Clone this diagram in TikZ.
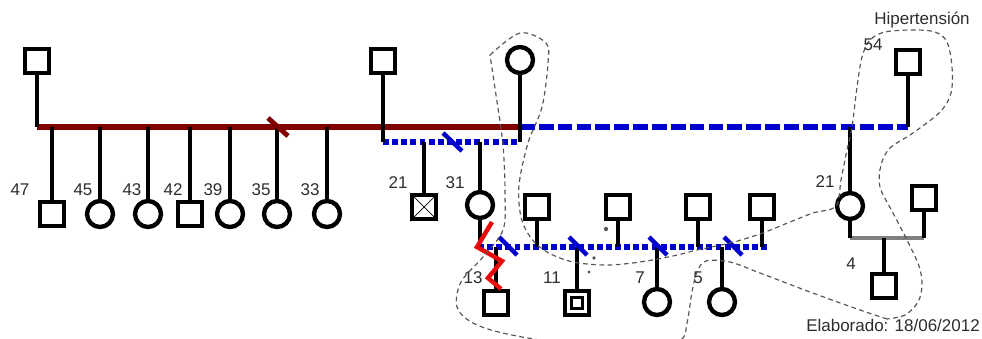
\documentclass[tikz,border=0pt]{standalone}
\usepackage{fontspec}
\setmainfont{Liberation Sans}
\definecolor{maroonline}{RGB}{128,0,0}
\definecolor{bluelink}{RGB}{0,0,205}
\definecolor{zigred}{RGB}{230,10,10}
\definecolor{lassogray}{RGB}{85,85,85}
\definecolor{labelgray}{RGB}{45,45,45}
\begin{document}
\begin{tikzpicture}[x=0.03cm,y=-0.03cm,
  male/.style={draw=black,line width=3.7pt,fill=white,rectangle,minimum size=0.72cm,inner sep=0pt},
  female/.style={draw=black,line width=3.7pt,fill=white,circle,minimum size=0.78cm,inner sep=0pt},
  kin/.style={black,line width=3.9pt},
  couplered/.style={maroonline,line width=5pt},
  coupledash/.style={bluelink,line width=5.4pt,dash pattern=on 12.5pt off 3.6pt},
  coupledot/.style={bluelink,line width=4.5pt,dash pattern=on 5pt off 2.8pt},
  divorce/.style={bluelink,line width=3.8pt},
  divorcered/.style={maroonline,line width=4.2pt},
  hostile/.style={zigred,line width=3.8pt,line join=miter},
  steplink/.style={gray,line width=4pt},
  lasso/.style={lassogray,line width=1pt,dash pattern=on 4pt off 3pt},
  age/.style={text=labelgray,font=\fontsize{14.5pt}{17pt}\selectfont,inner sep=0pt}]
\useasboundingbox (0,0) rectangle (982,339);
\clip (0,0) rectangle (982,339);

% ---------- junction points on the couple lines ----------
\coordinate (rlL) at (37,127);
\coordinate (rlR) at (520,127);
\coordinate (bdL) at (383,142);
\coordinate (bdR) at (520,142);
\coordinate (bxR) at (908,127);
\coordinate (tlL) at (478,247);
\coordinate (tlR) at (767,247);
\coordinate (glL) at (850,238);
\coordinate (glR) at (924,238);

% ---------- first generation ----------
\node[male]   (gA) at (37,61)  {};
\node[male]   (gB) at (383,61) {};
\node[female] (gC) at (520,60) {};
\node[male]   (gD) at (908,62) {};

% ---------- couple lines ----------
\draw[couplered]  (rlL) -- (rlR);
\draw[coupledash] (rlR) -- (bxR);
\draw[coupledot]  (bdL) -- (bdR);
\draw[kin] (gA.south) -- (rlL);
\draw[kin] (gB.south) -- (bdL);
\draw[kin] (gC.south) -- (bdR);
\draw[kin] (gD.south) -- (bxR);

% ---------- children of the first union ----------
\foreach \nm/\xx/\shp/\ag/\lx in {k1/52/male/47/20, k2/100/female/45/83, k3/148/female/43/132,
    k4/190/male/42/173, k5/230/female/39/213, k6/277/female/35/261, k7/327/female/33/310}{
  \node[\shp] (\nm) at (\xx,214) {};
  \draw[kin] (\nm.north) -- (\nm.north |- rlL);
  \node[age] (\nm-age) at (\lx,190) {\ag};
}
\draw[divorcered] (268,118) -- (288,136);

% ---------- children of the second union ----------
\node[male]   (m21) at (424,207) {};
\draw[line width=0.6pt] (m21.north west) -- (m21.south east);
\draw[line width=0.6pt] (m21.north east) -- (m21.south west);
\node[female] (f31) at (480,205) {};
\draw[kin] (m21.north) -- (m21.north |- bdL);
\draw[kin] (f31.north) -- (f31.north |- bdL);
\node[age] (m21-age) at (398,183) {21};
\node[age] (f31-age) at (455,183) {31};
\draw[divorce] (443,133) -- (462,151);

% ---------- right branch ----------
\node[female] (f21) at (850,206) {};
\draw[kin] (f21.north) -- (f21.north |- bxR);
\node[age] (f21-age) at (825,182) {21};
\node[male] (pR) at (924,198) {};
\draw[steplink] (glL) -- (glR);
\draw[kin] (f21.south) -- (glL);
\draw[kin] (pR.south) -- (glR);
\node[male] (c4) at (884,286) {};
\draw[kin] (c4.north) -- (c4.north |- glL);
\node[age] (c4-age) at (851,264) {4};

% ---------- third generation ----------
\draw[coupledot] (tlL) -- (tlR);
\draw[kin] (f31.south) -- (f31.south |- tlL);
\foreach \nm/\xx in {s1/537, s2/618, s3/698, s4/762}{
  \node[male] (\nm) at (\xx,207) {};
  \draw[kin] (\nm.south) -- (\nm.south |- tlL);
}
\node[male]   (c13) at (496,303) {};
\node[male]   (c11) at (577,303) {};
\node[draw=black,line width=2.2pt,rectangle,minimum size=0.34cm,inner sep=0pt] (c11in) at (c11) {};
\node[female] (c7)  at (657,302) {};
\node[female] (c5)  at (722,302) {};
\foreach \nm in {c13,c11,c7,c5}{
  \draw[kin] (\nm.north) -- (\nm.north |- tlL);
}
\node[age] (c13-age) at (473,278) {13};
\node[age] (c11-age) at (552,278) {11};
\node[age] (c7-age)  at (640,278) {7};
\node[age] (c5-age)  at (698,278) {5};
\foreach \xx in {508,578,658,733}{
  \draw[divorce] (\xx,247) ++(-9,-10) -- ++(18,18);
}

% conflictive relation
\draw[hostile] (492,222) -- (477,247) -- (502,261) -- (488,278) -- (501,289);

% stray marks
\fill[lassogray] (606,229) circle[radius=1.8pt];
\fill[lassogray] (594,258) circle[radius=1.6pt];
\fill[lassogray] (589,272) circle[radius=1.4pt];

% ---------- household outline ----------
\draw[lasso] plot[smooth,tension=0.55] coordinates {
  (490,55) (520,33) (546,43) (548,63) (542,107) (528,143) (519,185) (521,217)
  (531,238) (547,252) (573,262) (607,265) (640,262) (673,256) (697,250) (730,243)
  (760,234) (790,222) (813,213) (836,206) (841,180) (847,150) (852,127) (857,87)
  (862,57) (870,40) (885,32) (913,30) (935,32) (947,42) (952,67) (951,93) (940,112)
  (913,133) (890,148) (881,165) (880,187) (893,213) (907,240) (919,266) (922,285)
  (918,302) (905,315) (887,319)};
\draw[lasso] plot[smooth,tension=0.55] coordinates {
  (887,319) (860,310) (810,292) (760,273) (730,262) (706,261) (697,272) (692,292)
  (687,323) (680,340) (640,346) (570,344) (507,334) (473,323) (457,307) (461,282)
  (483,257) (503,230) (505,195) (503,145) (496,95) (490,55)};

% ---------- captions ----------
\node[age] (cap54) at (873,45) {54};
\node[age] (capH) at (922,20) {Hipertensión};
\node[age] (capE) at (893,325) {Elaborado: 18/06/2012};
\end{tikzpicture}
\end{document}
